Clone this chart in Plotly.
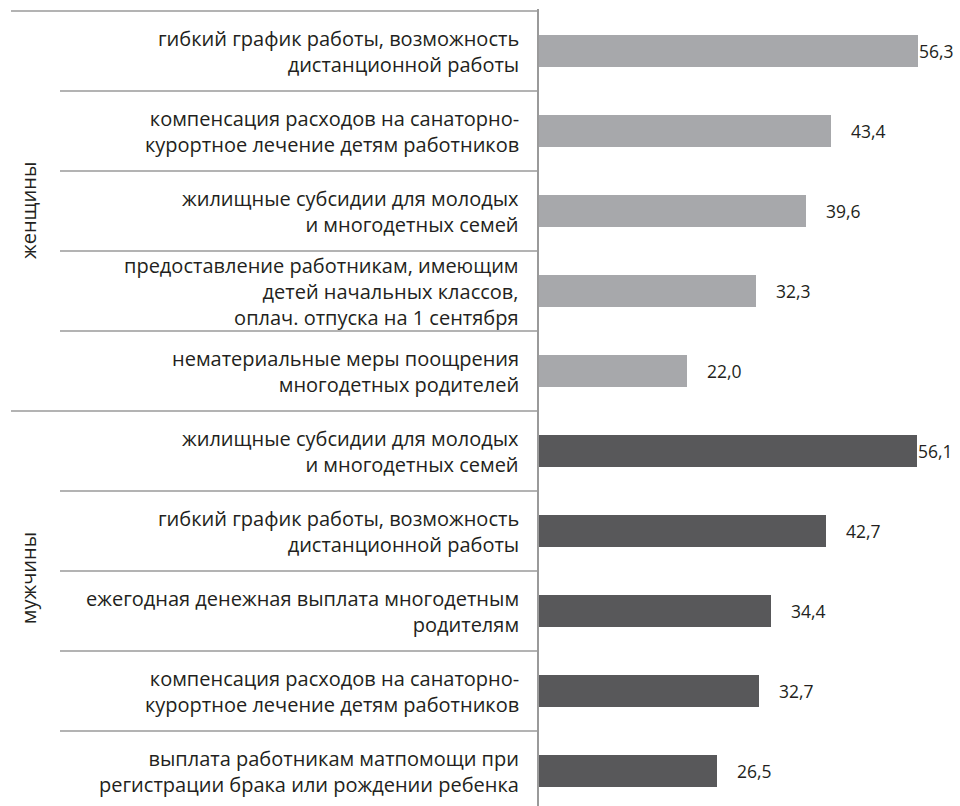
import plotly.graph_objects as go

# data
groups = ["женщины", "мужчины"]
labels = [
    "гибкий график работы, возможность<br>дистанционной работы",
    "компенсация расходов на санаторно-<br>курортное лечение детям работников",
    "жилищные субсидии для молодых<br>и многодетных семей",
    "предоставление работникам, имеющим<br>детей начальных классов,<br>оплач. отпуска на 1 сентября",
    "нематериальные меры поощрения<br>многодетных родителей",
    "жилищные субсидии для молодых<br>и многодетных семей",
    "гибкий график работы, возможность<br>дистанционной работы",
    "ежегодная денежная выплата многодетным<br>родителям",
    "компенсация расходов на санаторно-<br>курортное лечение детям работников",
    "выплата работникам матпомощи при<br>регистрации брака или рождении ребенка",
]
values = [56.3, 43.4, 39.6, 32.3, 22.0, 56.1, 42.7, 34.4, 32.7, 26.5]
group_of = [0, 0, 0, 0, 0, 1, 1, 1, 1, 1]

FONT = "Open Sans"
TEXT = "#231f20"
LINE = "#9a9a9a"
colors = ["#a7a8ab", "#58585a"]

W, H = 960, 806
L, T = 539, 9
ROW = 80.0
plot_w = W - L
x_max = plot_w / 6.73
y_top = -0.5 - (11 - T) / ROW
y_bot = y_top + (H - T) / ROW

pos = list(range(len(values)))

fig = go.Figure()
fig.add_trace(go.Bar(
    x=values, y=pos, orientation="h", width=0.41,
    marker=dict(color=[colors[g] for g in group_of], line=dict(width=0)),
    hoverinfo="skip", showlegend=False,
))

ann = []
for i, (lab, v) in enumerate(zip(labels, values)):
    ann.append(dict(
        x=(521 - L) / plot_w, xref="paper", y=i, yref="y",
        text=lab, showarrow=False, xanchor="right", yanchor="middle",
        align="right", font=dict(family=FONT, size=20, color=TEXT),
    ))
    # the two longest bars leave no room, so their labels hug the bar end
    ann.append(dict(
        x=v, xref="x", y=i, yref="y", text=f"{v:.1f}".replace(".", ","),
        showarrow=False, xanchor="left", yanchor="middle",
        xshift=18 if v < 50 else -1,
        font=dict(family=FONT, size=17.5, color=TEXT),
    ))

group_y = [2.0, 6.59]
for g, gy in zip(groups, group_y):
    ann.append(dict(
        x=(28 - L) / plot_w, xref="paper", y=gy, yref="y", text=g,
        textangle=-90, showarrow=False, xanchor="center", yanchor="middle",
        font=dict(family=FONT, size=20, color=TEXT),
    ))

shapes = []
for k in range(len(values)):
    yb = k - 0.5
    start = 11 if (k == 0 or group_of[k] != group_of[k - 1]) else 60
    shapes.append(dict(
        type="line", xref="paper", yref="y",
        x0=(start - L) / plot_w, x1=0, y0=yb, y1=yb,
        line=dict(color=LINE, width=1.5),
    ))

fig.update_layout(
    width=W, height=H,
    margin=dict(l=L, r=0, t=T, b=0),
    paper_bgcolor="white", plot_bgcolor="white",
    bargap=0,
    xaxis=dict(range=[0, x_max], visible=False, fixedrange=True),
    yaxis=dict(range=[y_bot, y_top], showticklabels=False, showgrid=False,
               zeroline=False, ticks="", showline=True, linecolor=LINE,
               linewidth=2, fixedrange=True),
    annotations=ann, shapes=shapes,
)

# drop the default 8px page margin so the figure sits at the window origin
fig.write_html("out.html", config={"displayModeBar": False},
               post_script="document.body.style.margin='0';")
